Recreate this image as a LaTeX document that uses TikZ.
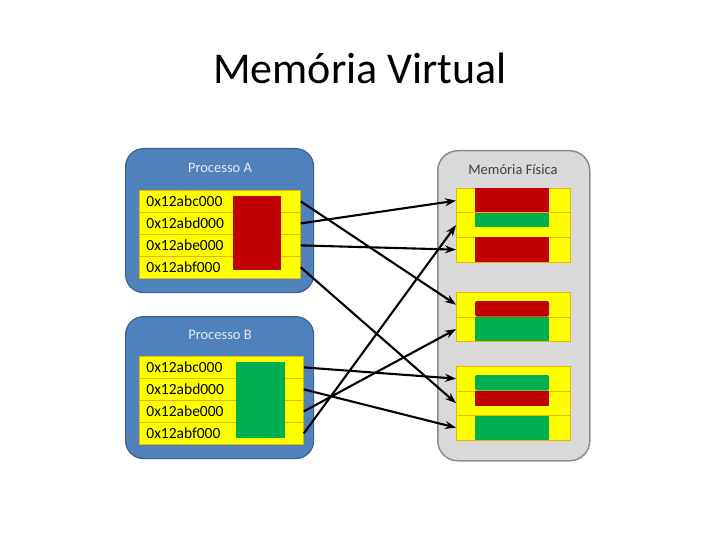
\documentclass[tikz,border=0pt]{standalone}
\usepackage{fontspec}
\setmainfont{Carlito}
\usetikzlibrary{arrows.meta,positioning}
\definecolor{procblue}{HTML}{4F81BD}
\definecolor{proctext}{HTML}{E4ECF7}
\definecolor{rowyellow}{HTML}{FFFF00}
\definecolor{rowgold}{HTML}{E8B400}
\definecolor{pagered}{HTML}{C00000}
\definecolor{pagegreen}{HTML}{00B050}
\definecolor{memgray}{HTML}{D9D9D9}
\definecolor{memtext}{HTML}{404040}
\begin{document}
\begin{tikzpicture}[x=1pt, y=-1pt, proc/.style={draw=procblue!75!black, fill=procblue, rounded corners=18pt, line width=1.2pt, minimum width=188pt, anchor=north west}, ptitle/.style={font=\fontsize{14.5}{16}\selectfont, text=proctext}, vrow/.style={draw=rowgold, fill=rowyellow, line width=0.8pt, minimum height=22pt, inner ysep=0pt, inner xsep=7pt, align=left, anchor=north west, font=\fontsize{15.5}{17}\selectfont}, frow/.style={draw=rowgold, fill=rowyellow, line width=0.8pt, minimum width=114pt, minimum height=24.5pt, inner sep=0pt, anchor=north west}, mem/.style={draw=black!45, fill=memgray, rounded corners=20pt, line width=1.5pt, minimum width=152pt, minimum height=310pt, anchor=north west}, map/.style={-{Stealth[length=11pt,width=8pt]}, line width=2.1pt}]
\useasboundingbox (0,0) rectangle (720,540);
\node[font=\fontsize{44}{50}\selectfont] (title) at (360,68) {Memória Virtual};
\node[proc, minimum height=144pt] (procA) at (125,148) {}; \node[ptitle] (titleA) at (220,168) {Processo A};
\node[vrow, text width=147pt] (a1) at (139,190) {0x12abc000}; \node[vrow, text width=147pt] (a2) at (139,212) {0x12abd000};
\node[vrow, text width=147pt] (a3) at (139,234) {0x12abe000}; \node[vrow, text width=147pt] (a4) at (139,256) {0x12abf000};
\fill[pagered] (233,196) rectangle (281,270);
\node[proc, minimum height=142pt] (procB) at (125,316) {}; \node[ptitle] (titleB) at (220,335) {Processo B};
\node[vrow, text width=150pt] (b1) at (139,356) {0x12abc000}; \node[vrow, text width=150pt] (b2) at (139,378) {0x12abd000};
\node[vrow, text width=150pt] (b3) at (139,400) {0x12abe000}; \node[vrow, text width=150pt] (b4) at (139,422) {0x12abf000};
\fill[pagegreen] (236,362) rectangle (285,438);
\node[mem] (mem) at (437,150) {}; \node[font=\fontsize{14.5}{16}\selectfont, text=memtext] (memtitle) at (513,170) {Memória Física};
\node[frow] (f1) at (456,188) {}; \node[frow] (f2) at (456,212.5) {}; \node[frow] (f3) at (456,237) {};
\node[frow] (f4) at (456,292) {}; \node[frow] (f5) at (456,316.5) {};
\node[frow] (f6) at (456,366) {}; \node[frow] (f7) at (456,390.5) {}; \node[frow] (f8) at (456,415) {};
\fill[pagered] (475,188) rectangle (549,212.5); \fill[pagegreen] (475,213.5) rectangle (549,227); \fill[pagered] (475,237) rectangle (549,261.5);
\fill[pagered, rounded corners=1.5pt] (475,301) rectangle (549,316.5); \fill[pagegreen] (475,316.5) rectangle (549,341);
\fill[pagegreen, rounded corners=1.5pt] (475,375) rectangle (549,390.5); \fill[pagered] (475,390.5) rectangle (549,406); \fill[pagegreen] (475,416) rectangle (549,439.5);
\draw[map] (a1.east) -- (f4.west); \draw[map] (a2.east) -- (f1.west); \draw[map] (a3.east) -- (f3.west); \draw[map] (a4.east) -- (f7.west);
\draw[map] (b1.east) -- (f6.west); \draw[map] (b2.east) -- (f8.west); \draw[map] (b3.east) -- (f5.west); \draw[map] (b4.east) -- (f2.west);
\end{tikzpicture}
\end{document}
